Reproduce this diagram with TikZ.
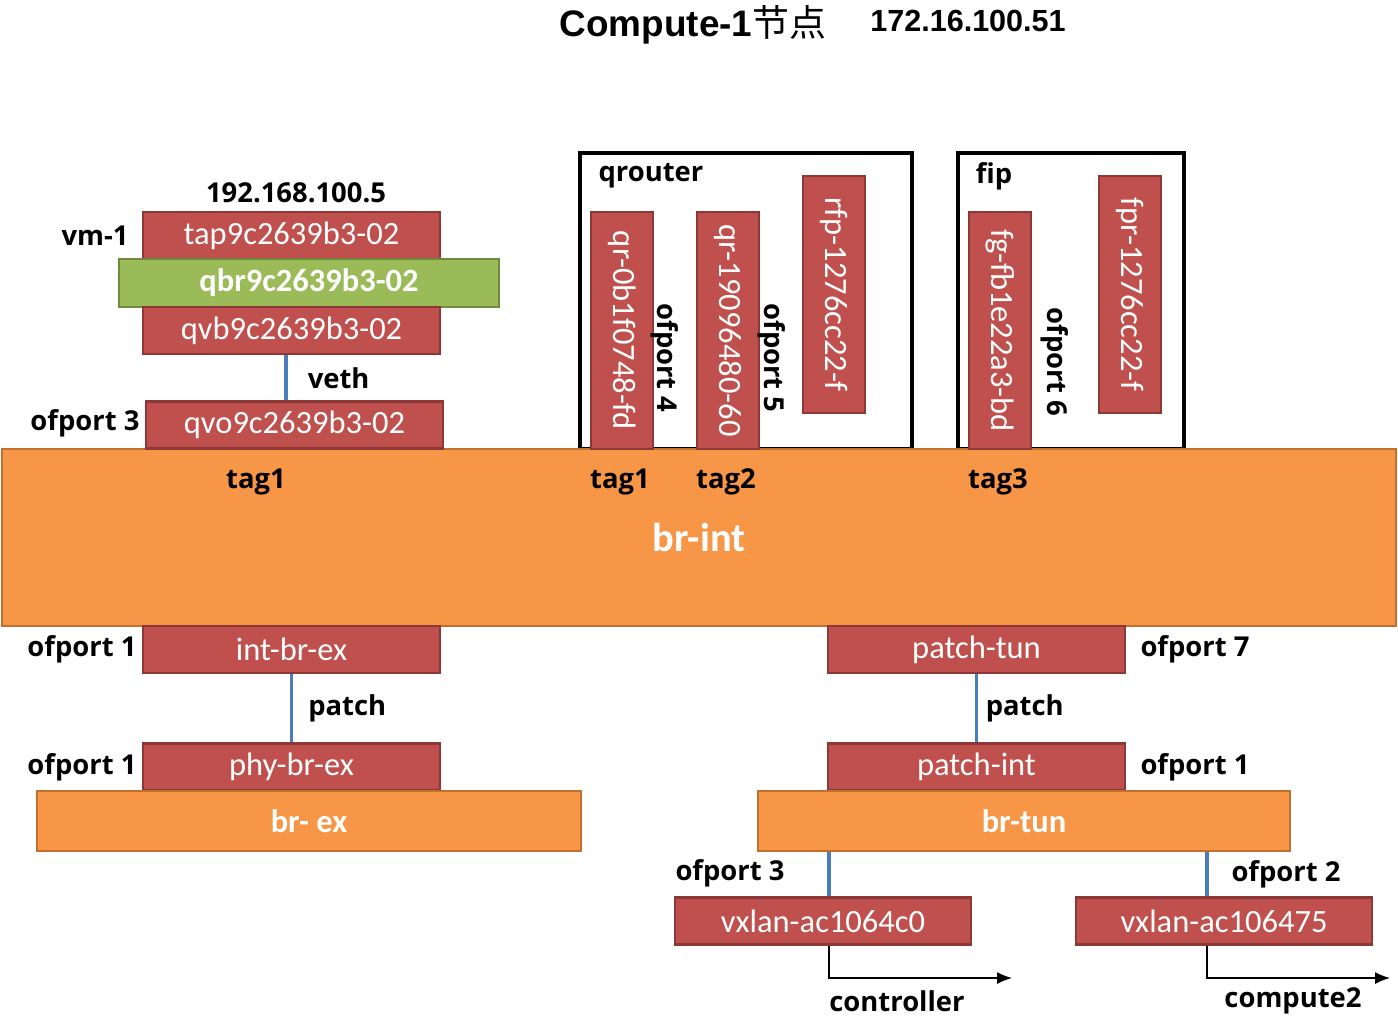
\documentclass[tikz,border=0pt]{standalone}
\usepackage{fontspec}
\setmainfont{Carlito}
\newfontfamily\lblfont{Open Sans}
\newfontfamily\titlefont{Liberation Sans}
\newfontfamily\cjk{Noto Sans CJK SC}
\usetikzlibrary{arrows.meta}

\definecolor{portred}{HTML}{C0504D}
\definecolor{portedge}{HTML}{8C3836}
\definecolor{brorange}{HTML}{F79646}
\definecolor{bredge}{HTML}{C0712F}
\definecolor{qbrgreen}{HTML}{9BBB59}
\definecolor{qbredge}{HTML}{71893F}
\definecolor{vethblue}{HTML}{4A7EBB}

\begin{document}
\begin{tikzpicture}[x=0.02cm, y=-0.02cm,
    port/.style={draw=portedge, fill=portred, line width=1.5pt, text=white, inner sep=0pt,
        minimum width=5.94cm, minimum height=0.94cm, font=\fontsize{18.5}{20}\selectfont},
    vport/.style={port, rotate=-90, minimum width=4.74cm, minimum height=1.24cm},
    bridge/.style={draw=bredge, fill=brorange, line width=1.5pt, text=white, inner sep=0pt,
        font=\fontsize{18.5}{20}\selectfont\bfseries},
    ns/.style={draw=black, line width=1.8pt, inner sep=0pt, minimum width=#1, minimum height=5.92cm},
    lbl/.style={font=\lblfont\fontsize{15.6}{17}\selectfont\bfseries, inner sep=0pt},
    link/.style={draw=vethblue, line width=2pt}]
    \useasboundingbox (0,0) rectangle (1398,1021);

    % Title
    \node[font=\titlefont\fontsize{21}{24}\selectfont\bfseries] (title) at (693,25) {Compute-1{\cjk\mdseries 节点}};
    \node[font=\titlefont\fontsize{17.4}{20}\selectfont\bfseries] (hostip) at (968,21) {172.16.100.51};

    % Namespaces
    \node[ns=6.64cm] (qrouter) at (746,301) {};
    \node[ns=4.52cm] (fip) at (1071,301) {};
    \node[lbl] at (651,176) {qrouter};
    \node[lbl] at (994,176) {fip};

    % br-int
    \node[bridge, minimum width=27.88cm, minimum height=3.54cm, font=\fontsize{23}{26}\selectfont\bfseries] (brint) at (699,537.5) {br-int};

    % vm-1 side
    \node[lbl] (vmip) at (296,193) {192.168.100.5};
    \node[port] (tap) at (291.5,235.5) {tap9c2639b3-02};
    \node[draw=qbredge, fill=qbrgreen, line width=1.5pt, text=white, minimum width=7.6cm, minimum height=0.96cm,
        inner sep=0pt, font=\fontsize{18.5}{20}\selectfont\bfseries] (qbr) at (309,283) {qbr9c2639b3-02};
    \node[port] (qvb) at (291.5,330.5) {qvb9c2639b3-02};
    \node[port] (qvo) at (294.5,425) {qvo9c2639b3-02};
    \node[lbl] at (95,236) {vm-1};
    \node[lbl] at (85,423) {ofport 3};
    \node[lbl] at (256,482) {tag1};

    % router and fip ports
    \node[vport] (qra) at (622,330.5) {qr-0b1f0748-fd};
    \node[vport] (qrb) at (728,330.5) {qr-19096480-60};
    \node[vport] (rfp) at (834,294.5) {rfp-1276cc22-f};
    \node[vport] (fg) at (1000,330.5) {fg-fb1e22a3-bd};
    \node[vport] (fpr) at (1130,294.5) {fpr-1276cc22-f};
    \node[lbl, rotate=-90] at (665,358) {ofport 4};
    \node[lbl, rotate=-90] at (772,358) {ofport 5};
    \node[lbl, rotate=-90] at (1055,362) {ofport 6};
    \node[lbl] at (620,482) {tag1};
    \node[lbl] at (726,482) {tag2};
    \node[lbl] at (998,482) {tag3};

    % br-ex
    \node[port] (intbrex) at (291.5,649.5) {int-br-ex};
    \node[port] (phybrex) at (291.5,767) {phy-br-ex};
    \node[bridge, minimum width=10.88cm, minimum height=1.2cm] (brex) at (309,821) {br- ex};
    \node[lbl] at (82,649) {ofport 1};
    \node[lbl] at (82,767) {ofport 1};

    % br-tun
    \node[port] (patchtun) at (976.5,649.5) {patch-tun};
    \node[port] (patchint) at (976.5,767) {patch-int};
    \node[bridge, minimum width=10.64cm, minimum height=1.2cm] (brtun) at (1024,821) {br-tun};
    \node[lbl] at (1195,649) {ofport 7};
    \node[lbl] at (1195,767) {ofport 1};
    \node[port, minimum width=5.92cm] (vxlanc) at (823,921) {vxlan-ac1064c0};
    \node[port, minimum width=5.92cm] (vxlanb) at (1224,921) {vxlan-ac106475};
    \node[lbl] at (730,873) {ofport 3};
    \node[lbl] at (1286,874) {ofport 2};

    % Links
    \draw[link] ([xshift=-0.11cm]qvb.south) -- ([xshift=-0.11cm]qvb.south |- qvo.north) node[midway, right=0.4cm, lbl] {veth};
    \draw[link] (intbrex) -- (phybrex) node[midway, right=0.3cm, lbl] {patch};
    \draw[link] (patchtun) -- (patchint) node[midway, right=0.15cm, lbl] {patch};
    \draw[link] ([xshift=0.12cm]vxlanc.north) -- ([xshift=0.12cm]vxlanc.north |- brtun.south);
    \draw[link] ([xshift=-0.34cm]vxlanb.north) -- ([xshift=-0.34cm]vxlanb.north |- brtun.south);

    % Tunnels
    \coordinate (ctrlend) at (1012,978);
    \coordinate (cmpend) at (1390,978);
    \draw[thick, ->, >={Latex[length=0.3cm,width=0.24cm]}] ([xshift=0.12cm]vxlanc.south) |- (ctrlend);
    \draw[thick, ->, >={Latex[length=0.3cm,width=0.24cm]}] ([xshift=-0.34cm]vxlanb.south) |- (cmpend);
    \node[lbl] at (897,1001) {controller};
    \node[lbl] at (1293,1001) {compute2};
\end{tikzpicture}
\end{document}
